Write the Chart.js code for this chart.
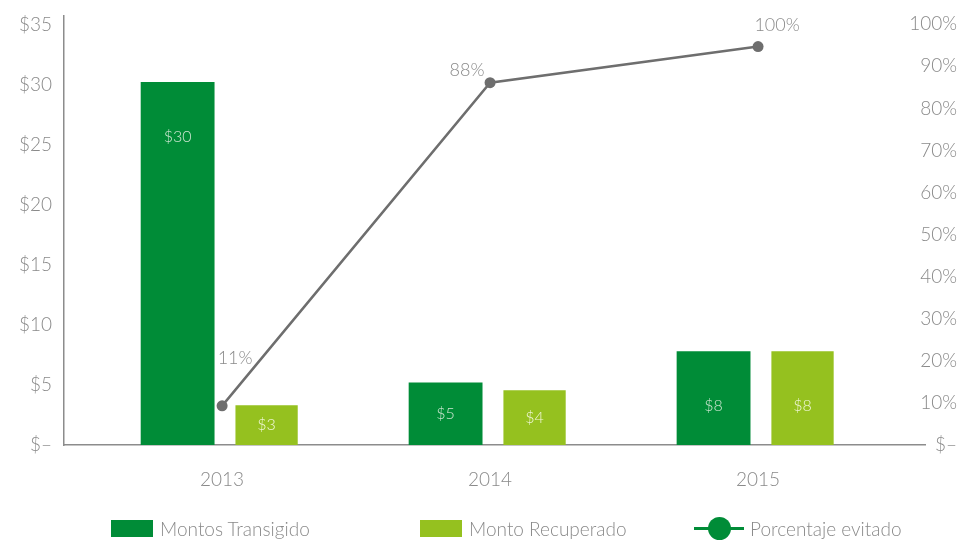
<!DOCTYPE html>
<html>
<head>
<meta charset="utf-8">
<script src="https://cdn.jsdelivr.net/npm/chart.js@4/dist/chart.umd.min.js"></script>
<style>
  html, body { margin: 0; padding: 0; background: #fff; }
  #wrap { position: relative; width: 962px; height: 545px; font-family: Lato, sans-serif; font-weight: 300; }
  #legend { position: absolute; left: 0; top: 513px; width: 962px; height: 30px; color: #8a8a8a; font-size: 19px; }
  .item { position: absolute; top: 0; height: 30px; display: flex; align-items: center; }
  .box { width: 42px; height: 17px; margin-right: 7px; }
  .lineMark { position: relative; width: 50px; height: 24px; margin-right: 6px; }
  .lineMark::before { content: ''; position: absolute; left: 0; right: 0; top: 11px; height: 3px; background: #008c37; }
  .lineMark::after { content: ''; position: absolute; left: 14px; top: 1px; width: 23px; height: 23px; border-radius: 50%; background: #008c37; }
</style>
</head>
<body>
<div id="wrap">
  <canvas id="c" width="962" height="545"></canvas>
  <div id="legend">
    <div class="item" style="left:111px"><div class="box" style="background:#008c37"></div>Montos Transigido</div>
    <div class="item" style="left:420px"><div class="box" style="background:#95c11f"></div>Monto Recuperado</div>
    <div class="item" style="left:694px"><div class="lineMark"></div>Porcentaje evitado</div>
  </div>
</div>
<script>
// Montos transigidos vs recuperados (millones) y porcentaje evitado

const years = [2013, 2014, 2015];
const transigido = [30.2, 5.2, 7.8];
const recuperado = [3.3, 4.55, 7.8];
const transigidoLabels = ['$30', '$5', '$8'];
const recuperadoLabels = ['$3', '$4', '$8'];
const evitado = [9.3, 86.1, 94.7];
const evitadoLabels = ['11%', '88%', '100%'];
const leftTicks = [0, 5, 10, 15, 20, 25, 30, 35];
const rightTicks = [0, 10, 20, 30, 40, 50, 60, 70, 80, 90, 100];

const DARK = '#008c37';
const LIGHT = '#95c11f';
const GREY = '#6e6e6e';
const TEXT = '#8a8a8a';
const FONT = 'Lato';

// where each % label sits relative to its point
const PCT_LABEL_OFFSET = [[13, -48], [-23, -13], [19, -21]];

const pctTick = v => (v === 0 ? '$\u2013' : v + '%');

const barLabels = {
  id: 'barLabels',
  afterDatasetsDraw(chart) {
    const ctx = chart.ctx;
    ctx.save();
    ctx.font = `300 16px ${FONT}`;
    ctx.textAlign = 'center';
    ctx.textBaseline = 'middle';
    [[0, transigidoLabels, 'rgba(225,240,225,0.9)'], [1, recuperadoLabels, 'rgba(245,250,225,0.95)']].forEach(([di, labels, col]) => {
      chart.getDatasetMeta(di).data.forEach((bar, i) => {
        const top = bar.y, bottom = bar.base;
        const mid = (top + bottom) / 2;
        const y = Math.min(top + 55, Math.max(mid, bottom - 34));
        ctx.fillStyle = col;
        ctx.fillText(labels[i], bar.x, y);
      });
    });
    ctx.fillStyle = TEXT;
    ctx.font = `300 18px ${FONT}`;
    chart.getDatasetMeta(2).data.forEach((pt, i) => {
      const [dx, dy] = PCT_LABEL_OFFSET[i];
      ctx.fillText(evitadoLabels[i], pt.x + dx, pt.y + dy);
    });
    // right axis labels, right-aligned to the canvas edge (they overhang the axis box)
    const y1 = chart.scales.y1;
    ctx.font = `300 19px ${FONT}`;
    ctx.textAlign = 'right';
    rightTicks.forEach(v => ctx.fillText(pctTick(v), y1.right, y1.getPixelForValue(v)));
    ctx.restore();
  },
};

const toXY = arr => arr.map((v, i) => ({ x: years[i], y: v }));

new Chart(document.getElementById('c').getContext('2d'), {
  type: 'bar',
  data: {
    datasets: [
      { label: 'Montos Transigido', data: toXY(transigido), backgroundColor: DARK, yAxisID: 'y',
        categoryPercentage: 0.664, barPercentage: 0.83, order: 1 },
      { label: 'Monto Recuperado', data: toXY(recuperado), backgroundColor: LIGHT, yAxisID: 'y',
        categoryPercentage: 0.664, barPercentage: 0.70, order: 1 },
      { type: 'line', label: 'Porcentaje evitado', data: toXY(evitado), yAxisID: 'y1',
        borderColor: GREY, backgroundColor: GREY, borderWidth: 2.5,
        pointRadius: 5.5, pointBackgroundColor: GREY, pointBorderWidth: 0, order: 0 },
    ],
  },
  options: {
    responsive: false, animation: false,
    layout: { padding: { top: 3, left: 0, right: 5, bottom: 0 } },
    plugins: { legend: { display: false }, tooltip: { enabled: false } },
    scales: {
      x: {
        type: 'linear', offset: false,
        min: 2012.41, max: 2015.623,
        afterBuildTicks: s => { s.ticks = years.map(v => ({ value: v })); },
        afterFit: s => { s.height = 100; },
        grid: { display: false },
        border: { display: true, color: '#8c8c8c', width: 1.5 },
        ticks: { color: TEXT, font: { family: FONT, size: 19, weight: '300' }, padding: 15,
                 callback: v => String(v) },
      },
      y: {
        position: 'left', min: 0, max: 35.75,
        afterBuildTicks: s => { s.ticks = leftTicks.map(v => ({ value: v })); },
        afterFit: s => { s.width = 64; },
        grid: { display: false },
        border: { display: true, color: '#8c8c8c', width: 1.5 },
        ticks: { color: TEXT, font: { family: FONT, size: 19, weight: '300' }, padding: 4,
                 callback: v => (v === 0 ? '$\u2013' : '$' + v) },
      },
      y1: {
        position: 'right', min: 0, max: 102.1,
        afterFit: s => { s.width = 32; },
        grid: { display: false },
        border: { display: false },
        ticks: { display: false },
      },
    },
  },
  plugins: [barLabels],
});
</script>
</body>
</html>
